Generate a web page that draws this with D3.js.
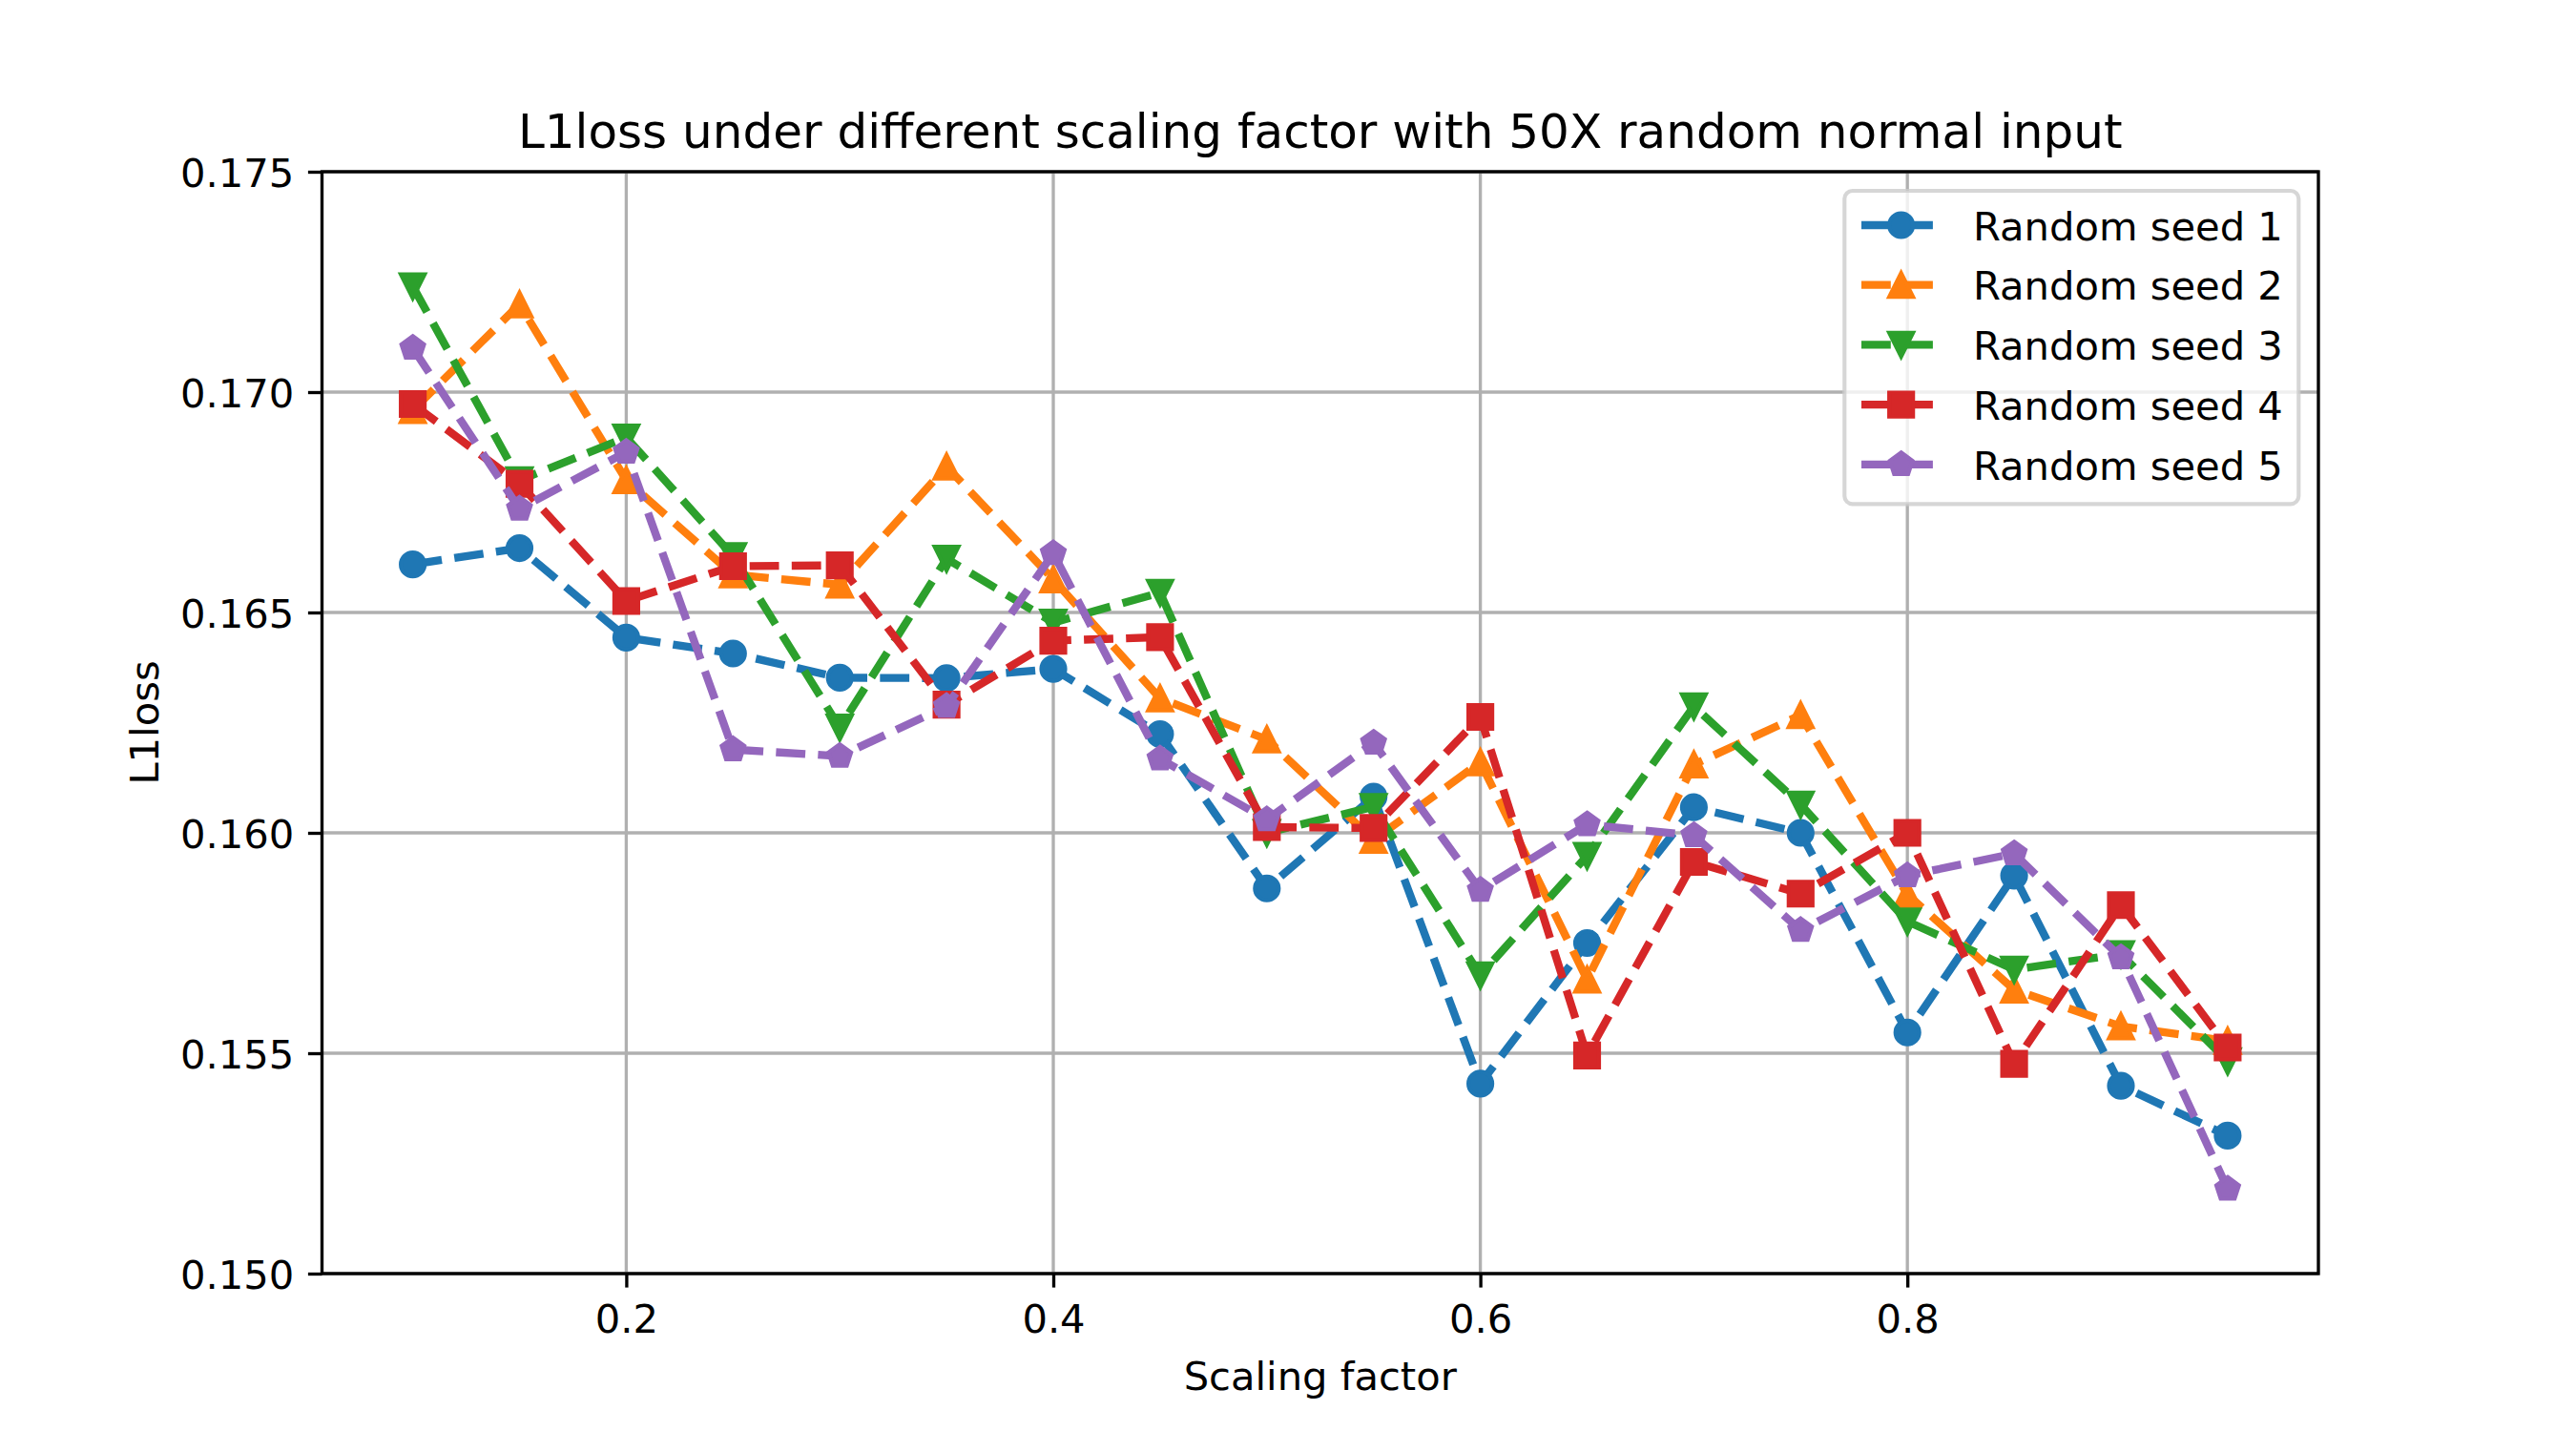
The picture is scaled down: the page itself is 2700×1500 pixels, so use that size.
<!DOCTYPE html>
<html>
<head>
<meta charset="utf-8">
<script src="https://cdn.jsdelivr.net/npm/d3@7"></script>
<style>
  html, body { margin: 0; padding: 0; background: #ffffff; }
  svg { display: block; font-family: "DejaVu Sans", sans-serif; }
</style>
</head>
<body>
<svg id="chart" width="2700" height="1500"></svg>
<script>
// ---------------- data ----------------
const scalingFactors = [0.10, 0.15, 0.20, 0.25, 0.30, 0.35, 0.40, 0.45, 0.50, 0.55, 0.60, 0.65, 0.70, 0.75, 0.80, 0.85, 0.90, 0.95];
const seed1 = [0.16609, 0.16646, 0.16443, 0.16407, 0.16352, 0.16351, 0.16372, 0.16224, 0.15874, 0.16082, 0.15431, 0.15750, 0.16058, 0.16000, 0.15547, 0.15903, 0.15426, 0.15313];
const seed2 = [0.16959, 0.17199, 0.16800, 0.16586, 0.16563, 0.16831, 0.16575, 0.16305, 0.16212, 0.15984, 0.16160, 0.15667, 0.16155, 0.16267, 0.15860, 0.15644, 0.15561, 0.15528];
const seed3 = [0.17240, 0.16800, 0.16897, 0.16628, 0.16239, 0.16622, 0.16477, 0.16545, 0.16000, 0.16059, 0.15677, 0.15948, 0.16287, 0.16064, 0.15799, 0.15690, 0.15725, 0.15482];
const seed4 = [0.16973, 0.16792, 0.16526, 0.16605, 0.16607, 0.16291, 0.16436, 0.16444, 0.16013, 0.16011, 0.16263, 0.15495, 0.15934, 0.15862, 0.16000, 0.15476, 0.15836, 0.15513];
const seed5 = [0.17100, 0.16735, 0.16864, 0.16189, 0.16174, 0.16287, 0.16634, 0.16168, 0.16030, 0.16204, 0.15870, 0.16019, 0.15994, 0.15779, 0.15903, 0.15953, 0.15717, 0.15192];
const seriesNames = ["Random seed 1", "Random seed 2", "Random seed 3", "Random seed 4", "Random seed 5"];
const seriesValues = [seed1, seed2, seed3, seed4, seed5];
const seriesColors = ["#1f77b4", "#ff7f0e", "#2ca02c", "#d62728", "#9467bd"];
const seriesMarkers = ["circle", "triangleUp", "triangleDown", "square", "pentagon"];
const xTickValues = [0.2, 0.4, 0.6, 0.8];
const xTickLabels = ["0.2", "0.4", "0.6", "0.8"];
const yTickValues = [0.150, 0.155, 0.160, 0.165, 0.170, 0.175];
const yTickLabels = ["0.150", "0.155", "0.160", "0.165", "0.170", "0.175"];
const titleText = "L1loss under different scaling factor with 50X random normal input";
const xLabelText = "Scaling factor";
const yLabelText = "L1loss";

// ---------------- layout ----------------
const W = 2700, H = 1500;
const plot = { left: 337.5, right: 2430, top: 180, bottom: 1335 };
const FS = 41.67;           // 10pt @ 300dpi
const TITLE_FS = 50;        // 12pt
const LW = 8.33;            // 2pt
const DASH = "30.8 13.3";
const MS = 25;              // 6pt marker
const MEW = 4.17;           // 1pt marker edge
const GRID_W = 3.33;
const TICK_LEN = 14.6;

const svg = d3.select("#chart");
svg.append("rect").attr("width", W).attr("height", H).attr("fill", "#ffffff");

const xMin = d3.min(scalingFactors), xMax = d3.max(scalingFactors);
const xPad = (xMax - xMin) * 0.05;
const x = d3.scaleLinear().domain([xMin - xPad, xMax + xPad]).range([plot.left, plot.right]);
const y = d3.scaleLinear().domain([0.150, 0.175]).range([plot.bottom, plot.top]);

// ---------------- grid ----------------
const grid = svg.append("g");
grid.selectAll("line.gx").data(xTickValues).join("line")
  .attr("x1", d => x(d)).attr("x2", d => x(d))
  .attr("y1", plot.top).attr("y2", plot.bottom)
  .attr("stroke", "#b0b0b0").attr("stroke-width", GRID_W);
grid.selectAll("line.gy").data(yTickValues).join("line")
  .attr("x1", plot.left).attr("x2", plot.right)
  .attr("y1", d => y(d)).attr("y2", d => y(d))
  .attr("stroke", "#b0b0b0").attr("stroke-width", GRID_W);

// ---------------- markers ----------------
const r = MS / 2;
const symbolTypes = {
  circle: { draw(ctx) { ctx.moveTo(r, 0); ctx.arc(0, 0, r, 0, 2 * Math.PI); ctx.closePath(); } },
  triangleUp: { draw(ctx) { ctx.moveTo(0, -r); ctx.lineTo(r, r); ctx.lineTo(-r, r); ctx.closePath(); } },
  triangleDown: { draw(ctx) { ctx.moveTo(0, r); ctx.lineTo(r, -r); ctx.lineTo(-r, -r); ctx.closePath(); } },
  square: { draw(ctx) { ctx.moveTo(-r, -r); ctx.lineTo(r, -r); ctx.lineTo(r, r); ctx.lineTo(-r, r); ctx.closePath(); } },
  pentagon: { draw(ctx) {
    for (let i = 0; i < 5; i++) {
      const a = -Math.PI / 2 + i * 2 * Math.PI / 5;
      const px = r * Math.cos(a), py = r * Math.sin(a);
      if (i === 0) ctx.moveTo(px, py); else ctx.lineTo(px, py);
    }
    ctx.closePath();
  } }
};
function markerPath(name) { return d3.symbol().type(symbolTypes[name])(); }

// ---------------- series ----------------
const lineGen = d3.line().x(d => x(d[0])).y(d => y(d[1]));
const seriesG = svg.append("g");
seriesValues.forEach((vals, i) => {
  const pts = scalingFactors.map((f, j) => [f, vals[j]]);
  const g = seriesG.append("g");
  g.append("path").datum(pts)
    .attr("d", lineGen)
    .attr("fill", "none")
    .attr("stroke", seriesColors[i])
    .attr("stroke-width", LW)
    .attr("stroke-dasharray", DASH)
    .attr("stroke-linecap", "butt")
    .attr("stroke-linejoin", "round");
  g.selectAll("path.m").data(pts).join("path")
    .attr("class", "m")
    .attr("transform", d => `translate(${x(d[0])},${y(d[1])})`)
    .attr("d", markerPath(seriesMarkers[i]))
    .attr("fill", seriesColors[i])
    .attr("stroke", seriesColors[i])
    .attr("stroke-width", MEW)
    .attr("stroke-linejoin", "miter");
});

// ---------------- axes ----------------
const xAxis = d3.axisBottom(x).tickValues(xTickValues)
  .tickFormat((d, i) => xTickLabels[i]).tickSize(TICK_LEN).tickPadding(17.5);
const gx = svg.append("g").attr("transform", `translate(0,${plot.bottom})`).call(xAxis);
gx.select(".domain").remove();
gx.selectAll(".tick line").attr("stroke", "#000").attr("stroke-width", GRID_W);
gx.selectAll(".tick text").attr("fill", "#000").attr("font-size", FS)
  .attr("font-family", "DejaVu Sans").attr("dy", "0.71em");

const yAxis = d3.axisLeft(y).tickValues(yTickValues)
  .tickFormat((d, i) => yTickLabels[i]).tickSize(TICK_LEN).tickPadding(14.6);
const gy = svg.append("g").attr("transform", `translate(${plot.left},0)`).call(yAxis);
gy.select(".domain").remove();
gy.selectAll(".tick line").attr("stroke", "#000").attr("stroke-width", GRID_W);
gy.selectAll(".tick text").attr("fill", "#000").attr("font-size", FS)
  .attr("font-family", "DejaVu Sans").attr("dy", "0.38em");

// spines
svg.append("rect")
  .attr("x", plot.left).attr("y", plot.top)
  .attr("width", plot.right - plot.left).attr("height", plot.bottom - plot.top)
  .attr("fill", "none").attr("stroke", "#000").attr("stroke-width", GRID_W)
  .attr("stroke-linejoin", "miter");

// ---------------- labels ----------------
svg.append("text")
  .attr("x", (plot.left + plot.right) / 2).attr("y", 155)
  .attr("text-anchor", "middle").attr("font-size", TITLE_FS).attr("fill", "#000")
  .text(titleText);
svg.append("text")
  .attr("x", (plot.left + plot.right) / 2).attr("y", 1456.5)
  .attr("text-anchor", "middle").attr("font-size", FS).attr("fill", "#000")
  .text(xLabelText);
svg.append("text")
  .attr("transform", `translate(166,${(plot.top + plot.bottom) / 2}) rotate(-90)`)
  .attr("text-anchor", "middle").attr("font-size", FS).attr("fill", "#000")
  .text(yLabelText);

// ---------------- legend ----------------
const leg = { x: 1933.3, y: 200, w: 476, h: 328.3 };
const legendG = svg.append("g");
legendG.append("rect")
  .attr("x", leg.x).attr("y", leg.y).attr("width", leg.w).attr("height", leg.h)
  .attr("rx", 8.3).attr("ry", 8.3)
  .attr("fill", "#ffffff").attr("fill-opacity", 0.8)
  .attr("stroke", "#cccccc").attr("stroke-opacity", 0.8).attr("stroke-width", 4.17);
const rowStep = 62.7;
const handleX = 1951, handleLen = 83.3;
seriesNames.forEach((name, i) => {
  const cy = 236 + i * rowStep;
  const row = legendG.append("g");
  row.append("line")
    .attr("x1", handleX).attr("x2", handleX + handleLen).attr("y1", cy).attr("y2", cy)
    .attr("stroke", seriesColors[i]).attr("stroke-width", LW)
    .attr("stroke-dasharray", DASH);
  row.append("path")
    .attr("transform", `translate(${handleX + handleLen / 2},${cy})`)
    .attr("d", markerPath(seriesMarkers[i]))
    .attr("fill", seriesColors[i]).attr("stroke", seriesColors[i])
    .attr("stroke-width", MEW).attr("stroke-linejoin", "miter");
  row.append("text")
    .attr("x", 2068).attr("y", 251.7 + i * rowStep)
    .attr("font-size", FS).attr("fill", "#000")
    .text(name);
});
</script>
</body>
</html>
